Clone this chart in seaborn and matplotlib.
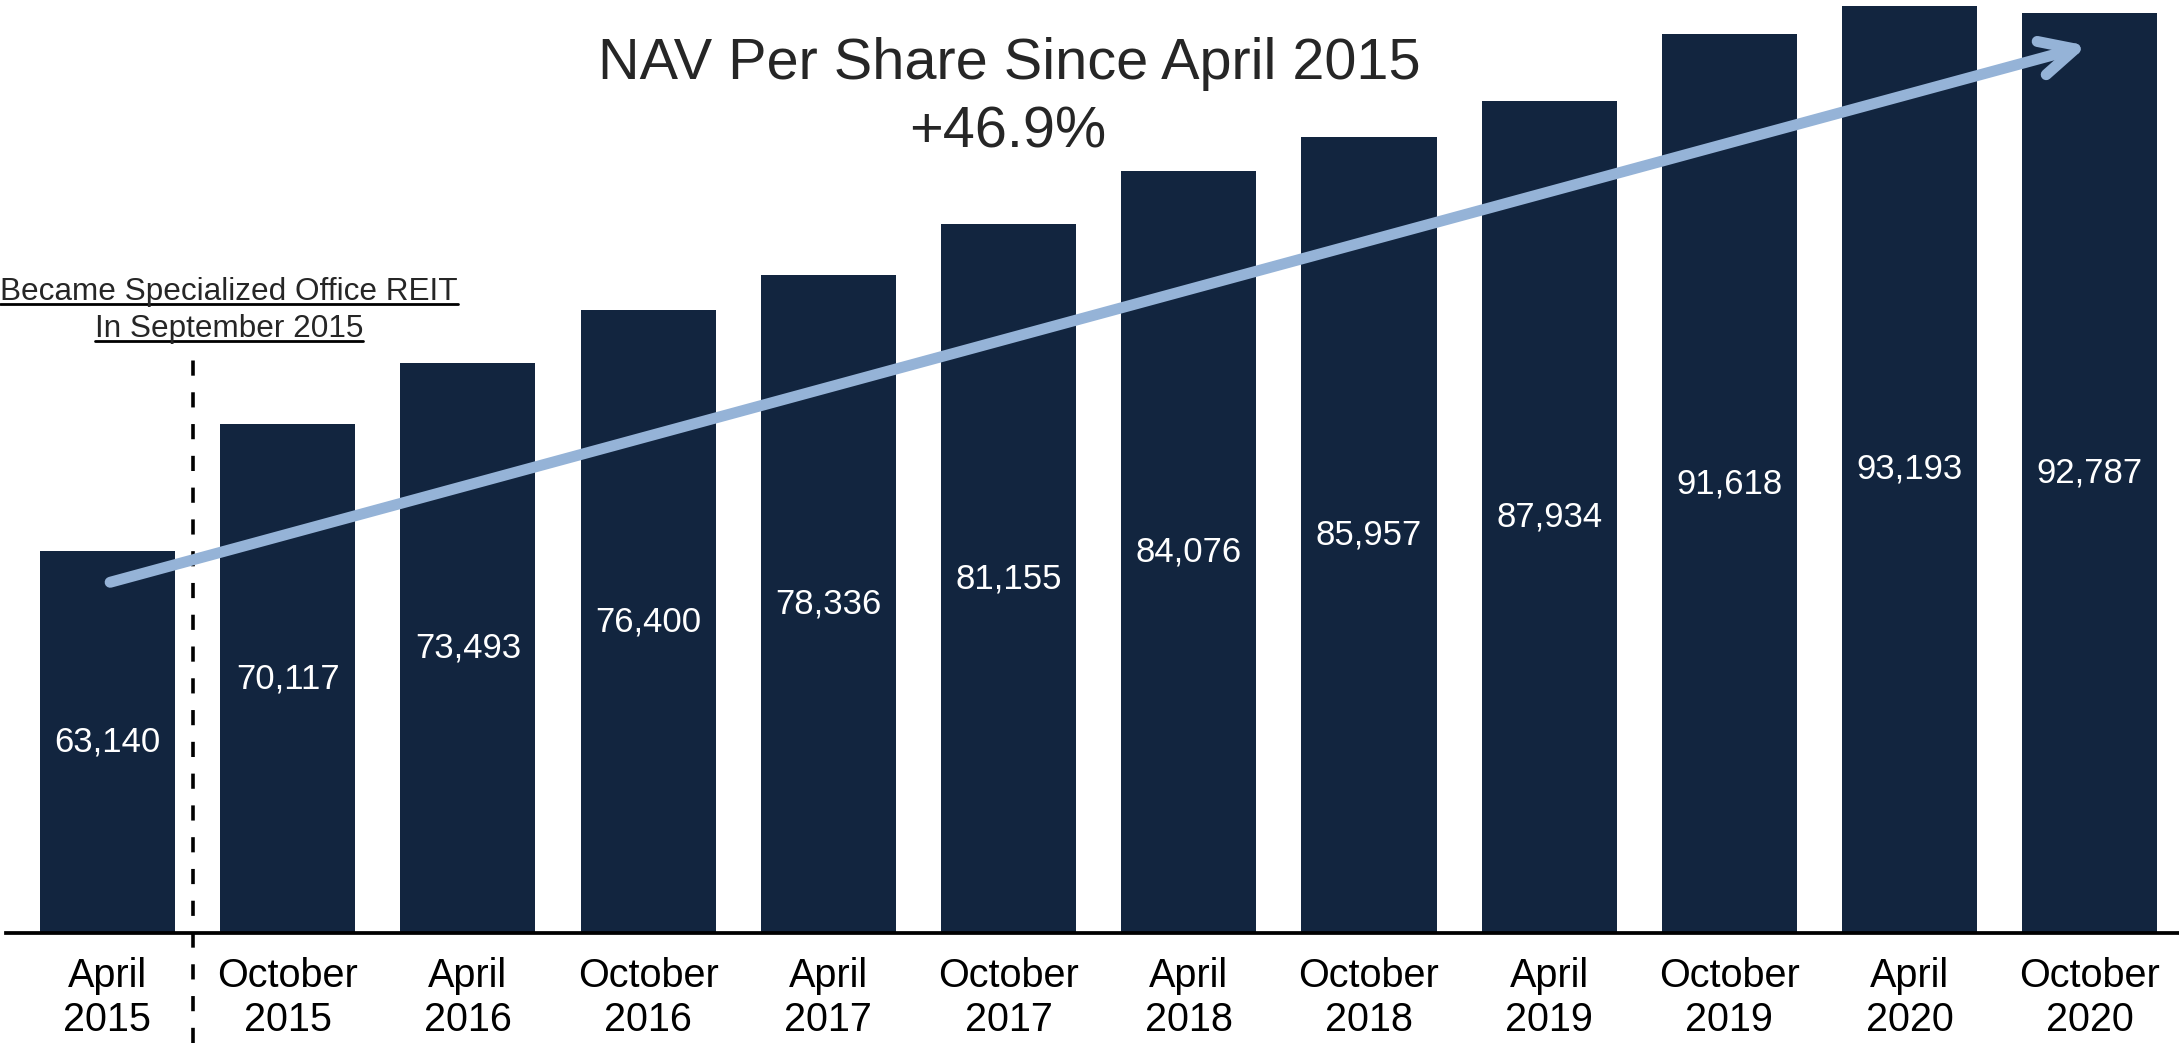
import seaborn as sns
import pandas as pd
import matplotlib.pyplot as plt
from matplotlib.patches import FancyArrowPatch
from matplotlib.lines import Line2D

# data
PERIODS = ['April\n2015', 'October\n2015', 'April\n2016', 'October\n2016',
           'April\n2017', 'October\n2017', 'April\n2018', 'October\n2018',
           'April\n2019', 'October\n2019', 'April\n2020', 'October\n2020']
NAV = [63140, 70117, 73493, 76400, 78336, 81155, 84076, 85957,
       87934, 91618, 93193, 92787]

TITLE = 'NAV Per Share Since April 2015'
GROWTH = '+46.9%'
NOTE = ['Became Specialized Office REIT', 'In September 2015']

NAVY = '#12253F'
LIGHT_BLUE = '#95B3D7'
Y_MIN, Y_MAX = 42090, 93504
W, H = 2179, 1043

sns.set_style('white')
plt.rcParams['font.family'] = ['Liberation Sans', 'DejaVu Sans']

df = pd.DataFrame({'period': PERIODS, 'nav': NAV})

fig = plt.figure(figsize=(W / 100, H / 100), dpi=100)
ax = fig.add_axes([6 / W, (H - 933) / H, (W - 6) / W, 933 / H])

sns.barplot(data=df, x='period', y='nav', color=NAVY, saturation=1,
            width=0.75, linewidth=0, ax=ax)

ax.set_ylim(Y_MIN, Y_MAX)
ax.set_xlim(-0.563, 11.495)
ax.set_xlabel('')
ax.set_ylabel('')
ax.set_yticks([])
for s in ['top', 'left', 'right']:
    ax.spines[s].set_visible(False)
ax.spines['bottom'].set_color('black')
ax.spines['bottom'].set_linewidth(2.7)
ax.tick_params(axis='x', length=0, pad=17, labelsize=28.5, colors='black')

# value labels in the middle of each bar
for i, v in enumerate(NAV):
    ax.text(i, (Y_MIN + v) / 2, f'{v:,}', ha='center', va='center',
            color='white', fontsize=25)

# growth arrow
arrow = FancyArrowPatch((0, 61377), (11, 91024),
                        arrowstyle='->,head_length=1.25,head_width=0.62',
                        mutation_scale=20, color=LIGHT_BLUE, lw=7.9,
                        capstyle='round', joinstyle='round', zorder=5)
ax.add_patch(arrow)

# dashed marker between April and October 2015
ax.axvline(0.475, ymin=(933 - H) / 933, ymax=(933 - 357) / 933,
           color='black', lw=2.6, dashes=(4.2, 4.6), clip_on=False, zorder=4)

# title
fig.text(1009 / W, 1 - 79 / H, TITLE, ha='center', va='baseline', fontsize=41.5)
fig.text(1008 / W, 1 - 147 / H, GROWTH, ha='center', va='baseline', fontsize=41.5)

# underlined note
note_texts = []
for line, base in zip(NOTE, [300, 337]):
    t = fig.text(229 / W, 1 - base / H, line, ha='center', va='baseline',
                 fontsize=22.7)
    note_texts.append((t, base))

fig.canvas.draw()
r = fig.canvas.get_renderer()
for t, base in note_texts:
    bb = t.get_window_extent(r)
    yy = 1 - (base + 4) / H
    fig.add_artist(Line2D([bb.x0 / W, bb.x1 / W], [yy, yy], color='black',
                          lw=2.0, transform=fig.transFigure))

fig.savefig('out.png', dpi=100)
